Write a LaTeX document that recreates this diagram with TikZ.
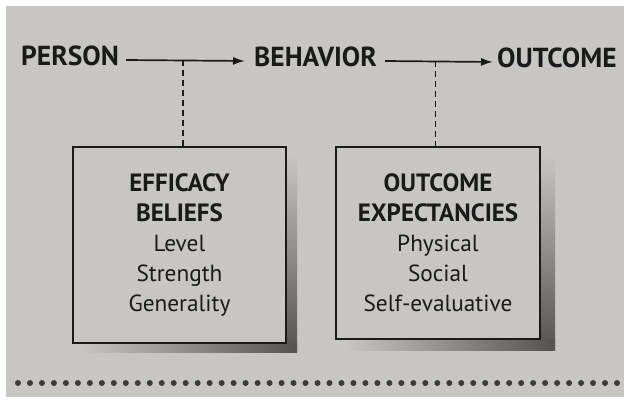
\documentclass[tikz,border=0pt]{standalone}
\usepackage{fontspec}
\setmainfont{PT Sans}
\usetikzlibrary{arrows.meta}
\definecolor{paper}{HTML}{C8C6C3}
\definecolor{ink}{HTML}{1A1A1A}
\definecolor{shade}{HTML}{555351}
\tikzset{
  head/.style={font=\fontsize{27.5}{30}\selectfont\bfseries, text=ink, inner sep=0pt, anchor=base west},
  conn/.style={draw=ink, line width=1.7pt, -{Latex[length=12pt,width=8pt]}},
  dashline/.style={draw=ink, line width=1.9pt, dash pattern=on 6pt off 4pt},
  infobox/.style={draw=ink, line width=1.8pt, fill=paper, align=center, text=ink,
     font=\fontsize{23.3}{30}\selectfont, inner sep=0pt},
}
\newcommand{\bline}[1]{{\fontsize{25}{30}\selectfont\bfseries #1}}
\begin{document}
\begin{tikzpicture}[x=1pt,y=-1pt]
\useasboundingbox (0,0) rectangle (624,402);
\fill[white] (0,0) rectangle (624,402);
\fill[paper] (6,6) rectangle (624,397);

% shadows
\shade[top color=paper, bottom color=shade] (286,155) rectangle (297,352);
\shade[left color=paper, right color=shade] (80,343) rectangle (297,352);
\shade[top color=paper, bottom color=shade] (540,155) rectangle (555,350);
\shade[left color=paper, right color=shade] (345,339) rectangle (555,350);

% headings
\node[head] (person) at (21,65) {PERSON};
\node[head] (behavior) at (254,66) {BEHAVIOR};
\node[head] (outcome) at (497,67) {OUTCOME};

% boxes
\node[infobox, minimum width=213pt, minimum height=196pt] (eff) at (179.5,245)
  {\bline{EFFICACY}\\ \bline{BELIEFS}\\ Level\\ Strength\\ Generality};
\node[infobox, minimum width=204pt, minimum height=192pt] (oe) at (438,243)
  {\bline{OUTCOME}\\ \bline{EXPECTANCIES}\\ Physical\\ Social\\ Self-evaluative};

% connectors
\draw[conn] ([shift={(7,-5)}]person.base east) -- coordinate[pos=0.475] (m1) ([shift={(-9,-5)}]behavior.base west);
\draw[conn] ([shift={(8,-5)}]behavior.base east) -- coordinate[pos=0.467] (m2) ([shift={(-4,-5)}]outcome.base west);
\draw[dashline] (m1) -- (eff.north -| m1);
\draw[dashline] (m2) -- (oe.north -| m2);

% dotted rule
\foreach \i in {0,...,50} \fill[ink!85] (18+\i*11.98,383) circle (3pt);
\end{tikzpicture}
\end{document}
